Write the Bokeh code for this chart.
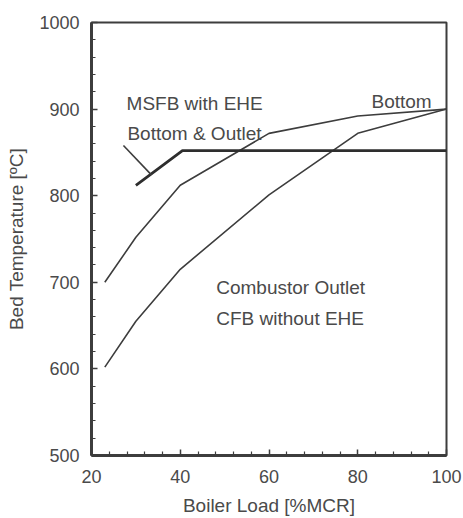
from bokeh.plotting import figure
from bokeh.models import FixedTicker, Range1d
from bokeh.embed import file_html
from bokeh.resources import INLINE
from bokeh.core.properties import value

# Boiler load [%MCR] and bed temperature [deg C]
load_bottom = [23, 30, 40, 60, 80, 100]
temp_bottom = [700, 752, 812, 872, 892, 900]

load_outlet = [23, 30, 40, 60, 80, 100]
temp_outlet = [602, 655, 715, 801, 872, 900]

# MSFB with EHE: bottom and outlet held at the same temperature
load_msfb = [30, 40.5, 100]
temp_msfb = [812, 852, 852]

# pointer from the MSFB caption to its line
load_pointer = [27.2, 33.5]
temp_pointer = [858, 824]

x_ticks = [20, 40, 60, 80, 100]
y_ticks = [500, 600, 700, 800, 900, 1000]

FONT = "Liberation Sans"
INK = "#3d3d3d"
TEXT = "#4a4a4a"

p = figure(width=463, height=518, output_backend="svg", toolbar_location=None,
           x_range=Range1d(20, 100), y_range=Range1d(500, 1000),
           min_border_left=91, min_border_right=17, min_border_top=22,
           min_border_bottom=61)
p.background_fill_color = "white"
p.border_fill_color = "white"
p.outline_line_color = INK
p.outline_line_width = 2
p.xgrid.visible = False
p.ygrid.visible = False

minor_x = [v for v in range(20, 101, 4) if v not in x_ticks]
minor_y = [v for v in range(500, 1001, 20) if v not in y_ticks]
p.xaxis.ticker = FixedTicker(ticks=x_ticks, minor_ticks=minor_x)
p.yaxis.ticker = FixedTicker(ticks=y_ticks, minor_ticks=minor_y)

for ax in (p.xaxis, p.yaxis):
    ax.axis_line_color = INK
    ax.axis_line_width = 3
    ax.major_tick_in = 6
    ax.major_tick_out = 0
    ax.minor_tick_in = 4
    ax.minor_tick_out = 0
    ax.major_tick_line_color = INK
    ax.minor_tick_line_color = INK
    ax.major_tick_line_width = 1.5
    ax.minor_tick_line_width = 1.2
    ax.major_label_text_font = FONT
    ax.major_label_text_font_size = "18px"
    ax.major_label_text_color = TEXT
    ax.axis_label_text_font = FONT
    ax.axis_label_text_font_size = "19px"
    ax.axis_label_text_font_style = "normal"
    ax.axis_label_text_color = TEXT

p.xaxis.axis_label = "Boiler Load [%MCR]"
p.yaxis.axis_label = "Bed Temperature [\u00baC]"
p.xaxis.major_label_standoff = 14
p.xaxis.axis_label_standoff = 9
p.yaxis.major_label_standoff = 12
p.yaxis.axis_label_standoff = 9

p.line(load_bottom, temp_bottom, line_color=INK, line_width=1.6)
p.line(load_outlet, temp_outlet, line_color=INK, line_width=1.6)
p.line(load_msfb, temp_msfb, line_color="#2e2e2e", line_width=2.8)
p.line(load_pointer, temp_pointer, line_color=INK, line_width=1.6)

labels = [
    (27.9, 907, "MSFB with EHE"),
    (28.1, 872, "Bottom & Outlet"),
    (83.1, 909, "Bottom"),
    (48.1, 694, "Combustor Outlet"),
    (48.1, 658, "CFB without EHE"),
]
p.text(x=[l[0] for l in labels], y=[l[1] for l in labels],
       text=[l[2] for l in labels],
       text_font=value(FONT), text_font_size="19px", text_color=TEXT,
       text_align="left", text_baseline="alphabetic")

open("out.html", "w").write(file_html(p, INLINE))
